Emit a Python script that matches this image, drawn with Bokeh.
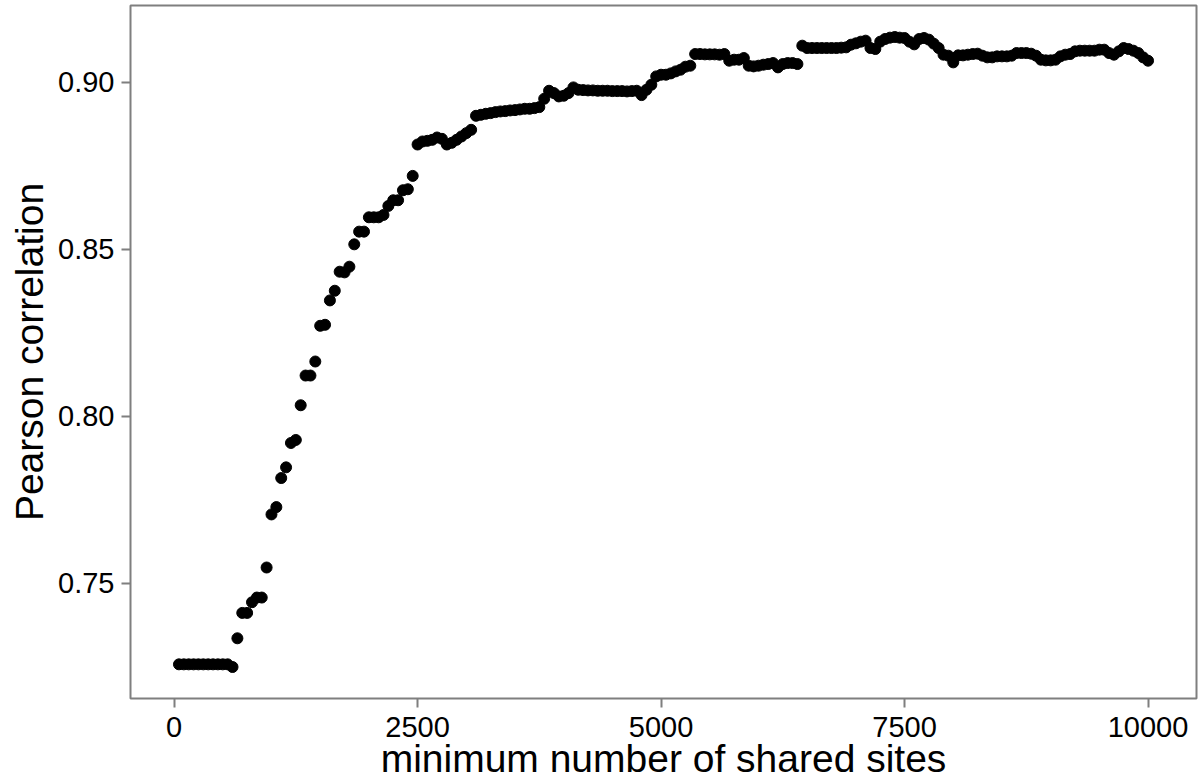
from bokeh.plotting import figure
from bokeh.models import FixedTicker, NumeralTickFormatter, Range1d
from bokeh.embed import file_html
from bokeh.resources import INLINE

# Minimum number of shared sites used as the filtering threshold (steps of 50)
shared_sites = list(range(50, 10001, 50))

# Pearson correlation obtained at each threshold
pearson_r = [
    0.7257, 0.7257, 0.7257, 0.7257, 0.7257, 0.7257, 0.7257, 0.7257, 0.7257, 0.7257,
    0.7257, 0.7249, 0.7335, 0.7411, 0.7411, 0.7443, 0.7457, 0.7457, 0.7547, 0.7706,
    0.7728, 0.7815, 0.7847, 0.7920, 0.7929, 0.8033, 0.8122, 0.8122, 0.8164, 0.8271,
    0.8274, 0.8347, 0.8376, 0.8433, 0.8431, 0.8448, 0.8515, 0.8553, 0.8553, 0.8596,
    0.8596, 0.8596, 0.8603, 0.8630, 0.8647, 0.8647, 0.8677, 0.8680, 0.8720, 0.8814,
    0.8823, 0.8825, 0.8828, 0.8835, 0.8831, 0.8814, 0.8819, 0.8828, 0.8838, 0.8848,
    0.8858, 0.8900, 0.8903, 0.8906, 0.8908, 0.8911, 0.8913, 0.8914, 0.8916, 0.8917,
    0.8919, 0.8921, 0.8921, 0.8923, 0.8926, 0.8951, 0.8975, 0.8968, 0.8958, 0.8960,
    0.8968, 0.8985, 0.8978, 0.8977, 0.8976, 0.8976, 0.8975, 0.8975, 0.8975, 0.8974,
    0.8974, 0.8974, 0.8973, 0.8974, 0.8975, 0.8962, 0.8978, 0.8993, 0.9018, 0.9023,
    0.9023, 0.9027, 0.9033, 0.9038, 0.9047, 0.9050, 0.9085, 0.9085, 0.9084, 0.9084,
    0.9084, 0.9083, 0.9085, 0.9065, 0.9068, 0.9068, 0.9073, 0.9050, 0.9048, 0.9050,
    0.9053, 0.9055, 0.9058, 0.9045, 0.9055, 0.9058, 0.9058, 0.9055, 0.9110, 0.9103,
    0.9103, 0.9103, 0.9103, 0.9103, 0.9103, 0.9103, 0.9104, 0.9105, 0.9113, 0.9117,
    0.9122, 0.9125, 0.9103, 0.9100, 0.9122, 0.9130, 0.9134, 0.9136, 0.9134, 0.9133,
    0.9122, 0.9114, 0.9130, 0.9133, 0.9128, 0.9116, 0.9103, 0.9083, 0.9080, 0.9060,
    0.9081, 0.9081, 0.9083, 0.9085, 0.9086, 0.9080, 0.9075, 0.9075, 0.9078, 0.9078,
    0.9078, 0.9080, 0.9088, 0.9088, 0.9088, 0.9086, 0.9080, 0.9068, 0.9066, 0.9066,
    0.9068, 0.9078, 0.9083, 0.9085, 0.9093, 0.9095, 0.9095, 0.9095, 0.9095, 0.9098,
    0.9098, 0.9088, 0.9083, 0.9093, 0.9103, 0.9100, 0.9095, 0.9088, 0.9075, 0.9065,
]

x_ticks = [0, 2500, 5000, 7500, 10000]
y_ticks = [0.75, 0.80, 0.85, 0.90]

FONT = "Liberation Sans"
GREY = "#7f7f7f"


def padded(values, frac=0.05):
    lo, hi = min(values), max(values)
    pad = (hi - lo) * frac
    return Range1d(lo - pad, hi + pad)


p = figure(
    width=1201, height=784,
    output_backend="svg", toolbar_location=None,
    x_range=padded(shared_sites), y_range=padded(pearson_r),
    min_border_left=130, min_border_right=5,
    min_border_top=5, min_border_bottom=86,
    background_fill_color="white", border_fill_color="white",
)

p.scatter(shared_sites, pearson_r, size=11, color="black", line_color="black")

# plain panel: grey box, no grid
p.xgrid.visible = False
p.ygrid.visible = False
p.outline_line_color = GREY
p.outline_line_width = 2

p.xaxis.ticker = FixedTicker(ticks=x_ticks)
p.yaxis.ticker = FixedTicker(ticks=y_ticks)
p.yaxis.formatter = NumeralTickFormatter(format="0.00")
p.xaxis.formatter = NumeralTickFormatter(format="0")

for ax in (p.xaxis, p.yaxis):
    ax.axis_line_color = None
    ax.major_tick_line_color = GREY
    ax.major_tick_line_width = 2
    ax.major_tick_out = 9
    ax.major_tick_in = 0
    ax.minor_tick_line_color = None
    ax.major_label_text_font = FONT
    ax.major_label_text_font_size = "29px"
    ax.major_label_text_color = "black"
    ax.axis_label_text_font = FONT
    ax.axis_label_text_font_style = "normal"
    ax.axis_label_text_color = "black"

p.xaxis.axis_label = "minimum number of shared sites"
p.xaxis.axis_label_text_font_size = "39px"
p.xaxis.major_label_standoff = 9
p.xaxis.axis_label_standoff = -3

p.yaxis.axis_label = "Pearson correlation"
p.yaxis.axis_label_text_font_size = "39px"
p.yaxis.major_label_standoff = 7
p.yaxis.axis_label_standoff = 4

open("out.html", "w").write(file_html(p, INLINE))
